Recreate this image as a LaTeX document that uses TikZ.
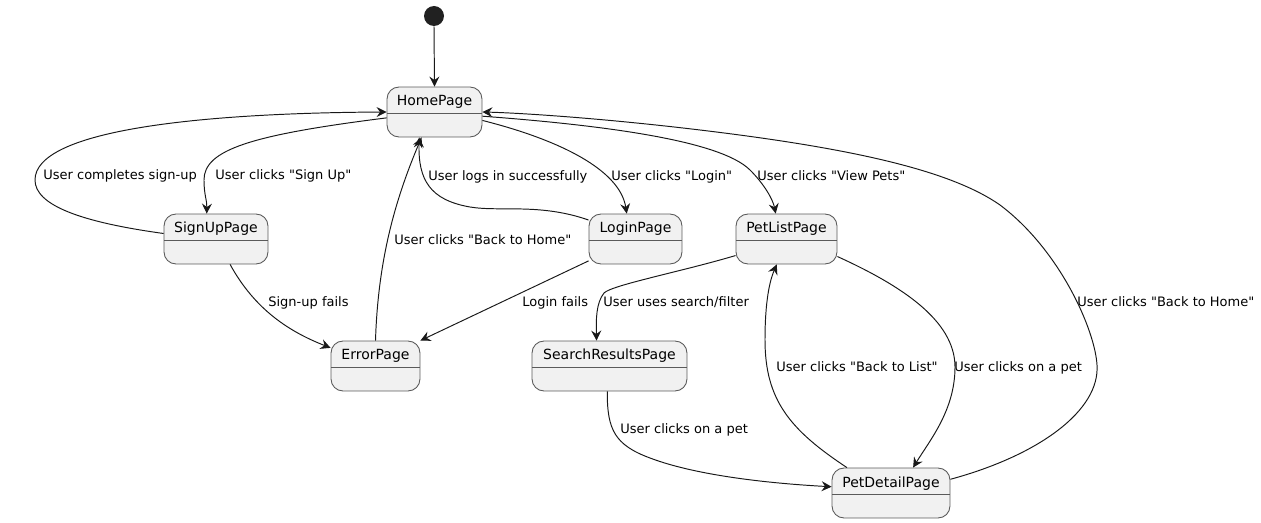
\documentclass[tikz,border=0pt]{standalone}
\usepackage{fontspec}
\setmainfont{DejaVu Sans}
\usetikzlibrary{arrows.meta}
\definecolor{statefill}{HTML}{F1F1F1}
\definecolor{stateline}{HTML}{5A5A5A}
\definecolor{edgeline}{HTML}{181818}
\newcommand{\qt}[1]{\textquotedbl#1\textquotedbl}

\begin{document}
\begin{tikzpicture}[
    x=0.02cm, y=-0.02cm,
    state/.style={draw=stateline, fill=statefill, line width=0.5pt, rounded corners=0.24cm,
        minimum height=1cm, inner sep=0pt, text height=0.2cm, text depth=0.44cm,
        font=\fontsize{7.97}{9}\selectfont,
        path picture={\draw[stateline, line width=0.5pt]
            ([yshift=-0.52cm]path picture bounding box.north west) --
            ([yshift=-0.52cm]path picture bounding box.north east);}},
    startdot/.style={circle, fill=black!87, minimum size=0.4cm, inner sep=0pt},
    trans/.style={draw=edgeline, line width=0.55pt,
        -{Stealth[length=0.2cm, width=0.2cm, inset=0.07cm]}},
    lbl/.style={anchor=west, inner sep=0pt, text height=6.6pt, text depth=1.2pt,
        font=\fontsize{7.4}{9}\selectfont},
]
\useasboundingbox (0,0) rectangle (1261,523);

% States
\node[startdot] (start) at (434,16) {};
\node[state, minimum width=1.9cm]  (home)    at (434.5,112) {HomePage};
\node[state, minimum width=2.08cm] (signup)  at (216,239)   {SignUpPage};
\node[state, minimum width=1.86cm] (login)   at (635.5,239) {LoginPage};
\node[state, minimum width=2.02cm] (petlist) at (786.5,239) {PetListPage};
\node[state, minimum width=1.78cm] (error)   at (375.5,366) {ErrorPage};
\node[state, minimum width=3.1cm]  (search)  at (609.5,366) {SearchResultsPage};
\node[state, minimum width=2.36cm] (detail)  at (891,493)   {PetDetailPage};

% Transitions out of HomePage and back
\draw[trans] (start.south) -- (home.north);
\draw[trans] (signup.174) .. controls (80,222) and (35,205) .. (35,180)
    .. controls (35,130) and (200,113) .. (home.west);
\draw[trans] (home.187) .. controls (250,135) and (204,150) .. (204,180)
    .. controls (204,195) and (207,200) .. (signup.110);
\draw[trans] (signup.299) .. controls (255,310) and (290,332) .. (error.158);
\draw[trans] (error.north) .. controls (378,260) and (395,200) .. (home.243);
\draw[trans] (login.158) .. controls (540,203) and (500,212) .. (470,207)
    .. controls (430,200) and (418,180) .. (home.239);
\draw[trans] (home.350) .. controls (560,140) and (620,170) .. (login.109);
\draw[trans] (home.355) .. controls (600,125) and (720,140) .. (750,170)
    .. controls (765,185) and (773,200) .. (petlist.113);
\draw[trans] (detail.13) .. controls (1040,455) and (1100,410) .. (1097,365)
    .. controls (1095,330) and (1060,250) .. (1000,205)
    .. controls (950,170) and (850,148) .. (700,130)
    .. controls (600,118) and (520,113) .. (home.east);
\draw[trans] (login.205) -- (error.north east);

% Pet list, search and detail
\draw[trans] (petlist.198) .. controls (680,272) and (612,285) .. (604,293)
    .. controls (596,303) and (596,320) .. (search.117);
\draw[trans] (detail.150) .. controls (790,430) and (765,400) .. (765,340)
    .. controls (765,300) and (770,280) .. (petlist.249);
\draw[trans] (petlist.341) .. controls (900,285) and (955,320) .. (955,367)
    .. controls (955,410) and (930,440) .. (detail.49);
\draw[trans] (search.265) .. controls (607,430) and (615,445) .. (650,458)
    .. controls (700,477) and (780,484) .. (detail.174);

% Labels
\node[lbl] (lcomplete)  at (43,175)   {User completes sign-up};
\node[lbl] (lsignup)    at (215,175)  {User clicks \qt{Sign Up}};
\node[lbl] (lsignfail)  at (268,302)  {Sign-up fails};
\node[lbl] (lerrhome)   at (394,240)  {User clicks \qt{Back to Home}};
\node[lbl] (llogged)    at (428,176)  {User logs in successfully};
\node[lbl] (llogin)     at (611,176)  {User clicks \qt{Login}};
\node[lbl] (lpets)      at (757,176)  {User clicks \qt{View Pets}};
\node[lbl] (ldethome)   at (1077,302) {User clicks \qt{Back to Home}};
\node[lbl] (lloginfail) at (522,302)  {Login fails};
\node[lbl] (lsearch)    at (603,302)  {User uses search/filter};
\node[lbl] (lbacklist)  at (776,367)  {User clicks \qt{Back to List}};
\node[lbl] (lpet1)      at (954,367)  {User clicks on a pet};
\node[lbl] (lpet2)      at (620,429)  {User clicks on a pet};

\end{tikzpicture}
\end{document}
